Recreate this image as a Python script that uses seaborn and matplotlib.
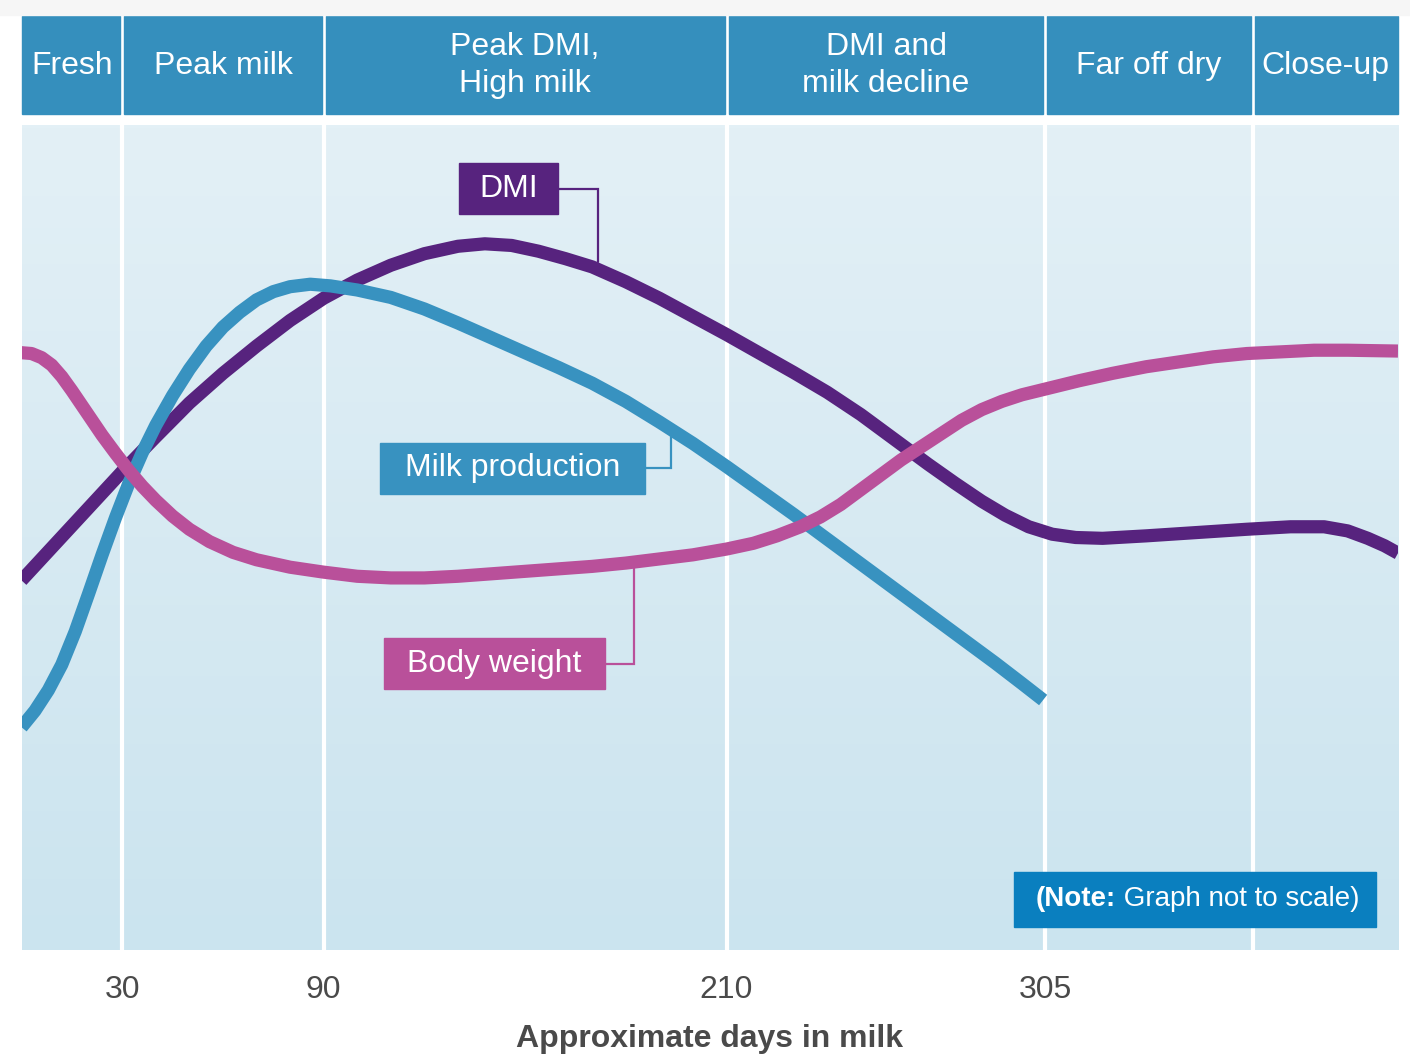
import numpy as np
import matplotlib
matplotlib.use("Agg")
import matplotlib.pyplot as plt
from matplotlib.patches import Rectangle
from matplotlib.colors import LinearSegmentedColormap
import seaborn as sns

# Lactation-cycle curves (relative levels, not to scale)
dmi_days = [0, 10, 20, 30, 40, 50, 60, 70, 80, 90, 100, 110, 120, 130, 138, 146,
            154, 162, 170, 180, 190, 200, 210, 220, 230, 240, 250, 260, 270, 278,
            286, 293, 300, 307, 314, 322, 335, 350, 365, 378, 388, 395, 401, 406, 410]
dmi_level = [44.8, 49.2, 53.6, 58.0, 62.2, 66.3, 69.9, 73.2, 76.3, 79.0, 81.2, 83.0,
             84.4, 85.3, 85.6, 85.4, 84.7, 83.8, 82.8, 81.0, 79.0, 76.8, 74.6, 72.3,
             70.0, 67.6, 64.9, 61.9, 58.9, 56.6, 54.4, 52.7, 51.3, 50.4, 50.0, 49.9,
             50.2, 50.6, 51.0, 51.3, 51.3, 50.8, 49.9, 49.0, 48.1]

milk_days = [0, 4, 8, 12, 16, 20, 24, 28, 32, 36, 40, 45, 50, 55, 60, 65, 70, 75,
             80, 86, 92, 100, 110, 120, 130, 140, 150, 160, 170, 180, 190, 200, 210,
             220, 230, 240, 250, 260, 270, 280, 290, 298, 304.3]
milk_level = [27.0, 29.0, 31.5, 34.6, 38.6, 43.2, 47.9, 52.4, 56.6, 60.3, 63.6, 67.2,
              70.4, 73.2, 75.5, 77.3, 78.8, 79.8, 80.4, 80.7, 80.5, 80.0, 79.1, 77.7,
              76.0, 74.2, 72.4, 70.6, 68.7, 66.5, 64.0, 61.4, 58.6, 55.7, 52.8, 49.8,
              46.8, 43.8, 40.8, 37.8, 34.8, 32.3, 30.3]

bw_days = [0, 3, 6, 9, 12, 15, 18, 21, 24, 28, 32, 36, 40, 45, 50, 56, 63, 70, 80,
           90, 100, 110, 120, 130, 140, 150, 160, 170, 180, 190, 200, 210, 218, 225,
           232, 238, 244, 250, 256, 262, 268, 274, 280, 286, 292, 298, 305, 315, 325,
           335, 345, 355, 365, 375, 385, 395, 410]
bw_level = [72.4, 72.3, 71.8, 70.9, 69.5, 67.8, 66.0, 64.2, 62.4, 60.2, 58.1, 56.2,
            54.5, 52.6, 51.0, 49.5, 48.2, 47.3, 46.4, 45.8, 45.3, 45.1, 45.1, 45.3,
            45.6, 45.9, 46.2, 46.5, 46.9, 47.4, 47.9, 48.6, 49.3, 50.2, 51.3, 52.5,
            54.0, 55.8, 57.6, 59.4, 61.0, 62.6, 64.2, 65.5, 66.5, 67.3, 68.0, 69.0,
            69.9, 70.7, 71.3, 71.9, 72.3, 72.5, 72.7, 72.7, 72.6]

stage_bounds = [0, 30, 90, 210, 305, 366.7, 410]
stage_names = ["Fresh", "Peak milk", "Peak DMI,\nHigh milk",
               "DMI and\nmilk decline", "Far off dry", "Close-up"]
tick_days = [30, 90, 210, 305]
tick_labels = ["30", "90", "210", "305"]

C_HEADER = "#358fbd"
C_MILK = "#3892c0"
C_DMI = "#57237e"
C_BW = "#b9509a"
C_NOTE = "#0a7fbf"
C_TEXT = "#4a4a4a"

sns.set_theme(style="white")
plt.rcParams["font.family"] = ["Liberation Sans", "DejaVu Sans"]

W, H = 1410, 1056
fig = plt.figure(figsize=(W / 100, H / 100), dpi=100)
fig.patch.set_facecolor("white")
fig.patches.append(Rectangle((0, (H - 15) / H), 1, 15 / H, transform=fig.transFigure,
                             color="#f6f6f6", zorder=0))

ax = fig.add_axes([21.5 / W, (H - 950) / H, (1398 - 21.5) / W, 825 / H])
ax.set_xlim(0, 410)
ax.set_ylim(0, 100)
for s in ax.spines.values():
    s.set_visible(False)
ax.set_yticks([])

# soft vertical background gradient
bg = LinearSegmentedColormap.from_list("bg", ["#e3f0f6", "#cbe4ef"])
ax.imshow(np.linspace(0, 1, 256).reshape(-1, 1), cmap=bg, extent=[0, 410, 0, 100],
          aspect="auto", origin="upper", zorder=0)

# stage separators
for b in stage_bounds[1:-1]:
    ax.axvline(b, color="white", lw=3, zorder=1)

# stage header boxes
gap = 0.6
for i, name in enumerate(stage_names):
    x0 = stage_bounds[i] + (gap if i > 0 else 0)
    x1 = stage_bounds[i + 1] - (gap if i < len(stage_names) - 1 else 0)
    ax.add_patch(Rectangle((x0, 101.3), x1 - x0, 11.9, color=C_HEADER,
                           clip_on=False, zorder=3))
    ax.text((stage_bounds[i] + stage_bounds[i + 1]) / 2, 107.2, name, color="white",
            fontsize=23, ha="center", va="center", multialignment="center",
            linespacing=1.27, zorder=4, clip_on=False)

# curves
lw = 9.5
sns.lineplot(x=dmi_days, y=dmi_level, ax=ax, color=C_DMI, linewidth=lw,
             solid_capstyle="butt", solid_joinstyle="round", zorder=5)
sns.lineplot(x=milk_days, y=milk_level, ax=ax, color=C_MILK, linewidth=lw,
             solid_capstyle="butt", solid_joinstyle="round", zorder=6)
sns.lineplot(x=bw_days, y=bw_level, ax=ax, color=C_BW, linewidth=lw,
             solid_capstyle="butt", solid_joinstyle="round", zorder=7)


def callout(text, x0, x1, y0, y1, lead_x, lead_y, color):
    ax.add_patch(Rectangle((x0, y0), x1 - x0, y1 - y0, color=color, zorder=8))
    ax.text((x0 + x1) / 2, (y0 + y1) / 2, text, color="white", fontsize=23,
            ha="center", va="center", zorder=9)
    ym = (y0 + y1) / 2
    ax.plot([x1, lead_x, lead_x], [ym, ym, lead_y], color=color, lw=1.6, zorder=4,
            solid_joinstyle="miter")


callout("DMI", 130.3, 159.8, 89.2, 95.4, 171.7, 83.4, C_DMI)
callout("Milk production", 106.8, 185.7, 55.3, 61.5, 193.5, 62.5, C_MILK)
callout("Body weight", 108.0, 173.8, 31.6, 37.8, 182.4, 46.3, C_BW)

# note box
ax.add_patch(Rectangle((295.6, 2.8), 107.9, 6.7, color=C_NOTE, zorder=8))
note_a = ax.text(302.0, 6.15, "(Note:", color="white", fontsize=20,
                 fontweight="bold", ha="left", va="center", zorder=9)
ax.annotate(" Graph not to scale)", xy=(1, 0), xycoords=note_a, color="white",
            fontsize=20, ha="left", va="bottom", zorder=9)

ax.set_xticks(tick_days)
ax.set_xticklabels(tick_labels, fontsize=23, color=C_TEXT)
ax.tick_params(axis="x", length=0, pad=18)
ax.set_xlabel("Approximate days in milk", fontsize=23, fontweight="bold",
              color=C_TEXT, labelpad=14)
ax.set_ylabel("")

fig.savefig("out.png", dpi=100)
